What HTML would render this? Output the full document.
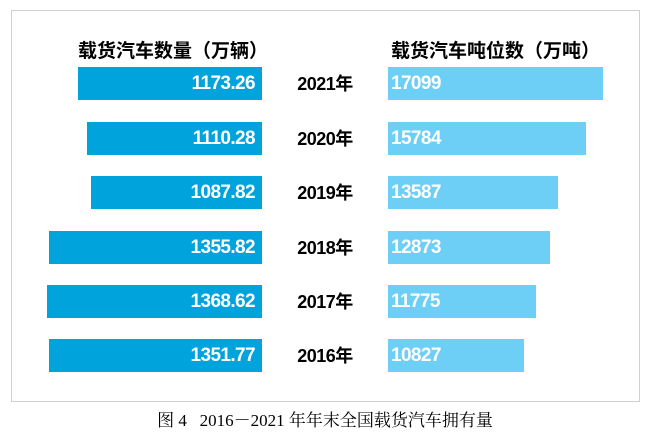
<!DOCTYPE html>
<html><head><meta charset="utf-8"><style>
body{margin:0;width:650px;height:432px;background:#fff;position:relative;overflow:hidden;font-family:"Liberation Sans","Noto Sans CJK SC",sans-serif}
.box{position:absolute;left:11px;top:10px;width:627px;height:390px;border:1px solid #d0d0d0}
.b{position:absolute;height:33px;color:#fff;font-weight:bold;font-size:19px;line-height:34px;letter-spacing:-0.6px}
.l{background:#00a3dc;text-align:right;padding-right:7px;box-sizing:border-box}
.r{background:#6dcff6;left:388px;padding-left:3px;box-sizing:border-box}
.y{position:absolute;left:290px;width:70px;text-align:center;font-weight:bold;font-size:18px;line-height:34px;color:#000;letter-spacing:-0.5px}
.t{position:absolute;top:40px;font-weight:bold;font-size:19px;color:#000;line-height:24px}
.cap{position:absolute;top:406px;left:0;width:650px;text-align:center;font-family:"Liberation Serif","Noto Serif CJK SC",serif;font-size:17px;color:#000}
</style></head><body>
<div class="box"></div>
<div class="t" style="left:78px">载货汽车数量（万辆）</div>
<div class="t" style="left:391px">载货汽车吨位数（万吨）</div>

<div class="b l" style="left:78px;width:184px;top:67px">1173.26</div>
<div class="y" style="top:67px">2021年</div>
<div class="b r" style="width:215px;top:67px">17099</div>

<div class="b l" style="left:87px;width:175px;top:122px">1110.28</div>
<div class="y" style="top:122px">2020年</div>
<div class="b r" style="width:198px;top:122px">15784</div>

<div class="b l" style="left:91px;width:171px;top:176px">1087.82</div>
<div class="y" style="top:176px">2019年</div>
<div class="b r" style="width:170px;top:176px">13587</div>

<div class="b l" style="left:49px;width:213px;top:231px">1355.82</div>
<div class="y" style="top:231px">2018年</div>
<div class="b r" style="width:162px;top:231px">12873</div>

<div class="b l" style="left:47px;width:215px;top:285px">1368.62</div>
<div class="y" style="top:285px">2017年</div>
<div class="b r" style="width:148px;top:285px">11775</div>

<div class="b l" style="left:49px;width:213px;top:339px">1351.77</div>
<div class="y" style="top:339px">2016年</div>
<div class="b r" style="width:136px;top:339px">10827</div>

<div class="cap">图 4&nbsp;&nbsp;&nbsp;2016－2021 年年末全国载货汽车拥有量</div>
</body></html>
